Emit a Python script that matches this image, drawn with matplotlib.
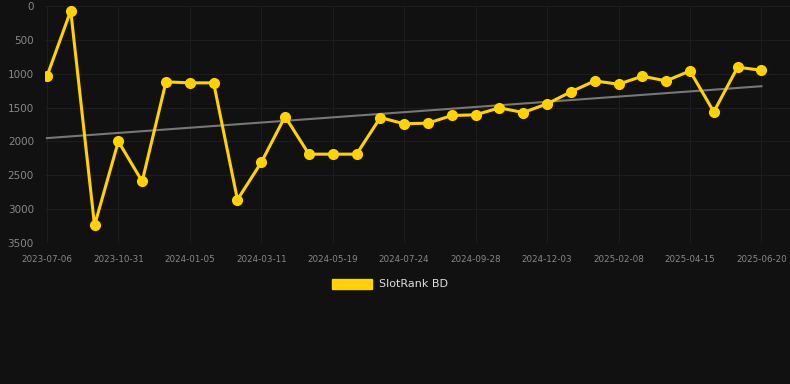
import numpy as np
import matplotlib
matplotlib.use("Agg")
import matplotlib.pyplot as plt
from matplotlib.patches import Patch

BG = "#111111"
GOLD = "#FFD200"
TREND = "#777777"
GRID = "#1d1d1d"
TICK = "#888888"

# rank per observation (lower = better, axis inverted)
ranks = [1040, 70, 3240, 2000, 2590, 1120, 1135, 1135, 2860, 2310,
         1632, 2188, 2188, 2188, 1647, 1740, 1730, 1617, 1607, 1504,
         1573, 1445, 1268, 1106, 1155, 1037, 1106, 959, 1563, 904, 949]
tick_labels = ["2023-07-06", "2023-10-31", "2024-01-05", "2024-03-11",
               "2024-05-19", "2024-07-24", "2024-09-28", "2024-12-03",
               "2025-02-08", "2025-04-15", "2025-06-20"]
y_ticks = [0, 500, 1000, 1500, 2000, 2500, 3000, 3500]

x = np.arange(len(ranks))
slope, icept = np.polyfit(x, ranks, 1)

fig = plt.figure(figsize=(7.9, 3.84), dpi=100, facecolor=BG)
ax = fig.add_axes([45 / 790, 1 - 243 / 384, 745 / 790, 237 / 384])
ax.set_facecolor(BG)

ax.plot(x, slope * x + icept, color=TREND, linewidth=1.5, zorder=2)
ax.plot(x, ranks, color=GOLD, linewidth=2.2, marker="o", markersize=7,
        zorder=3)

ax.set_ylim(3500, 0)
ax.set_xlim(-0.08, 31.2)
ax.set_yticks(y_ticks)
ax.set_yticklabels([str(v) for v in y_ticks])
ax.set_xticks(x[::3])
ax.set_xticklabels(tick_labels)

ax.grid(True, color=GRID, linewidth=0.8)
ax.set_axisbelow(True)
for s in ax.spines.values():
    s.set_visible(False)
ax.tick_params(axis="y", length=0, pad=8, labelsize=7.5, labelcolor=TICK)
ax.tick_params(axis="x", length=0, pad=9, labelsize=6.3, labelcolor=TICK)

handle = Patch(facecolor=GOLD, edgecolor=GOLD)
fig.legend([handle], ["SlotRank BD"], loc="center", bbox_to_anchor=(390 / 790, 1 - 284 / 384),
           frameon=False, fontsize=8, labelcolor="#dddddd",
           handlelength=3.6, handleheight=1.0, handletextpad=0.6)

fig.savefig("out.png", dpi=100, facecolor=BG)
